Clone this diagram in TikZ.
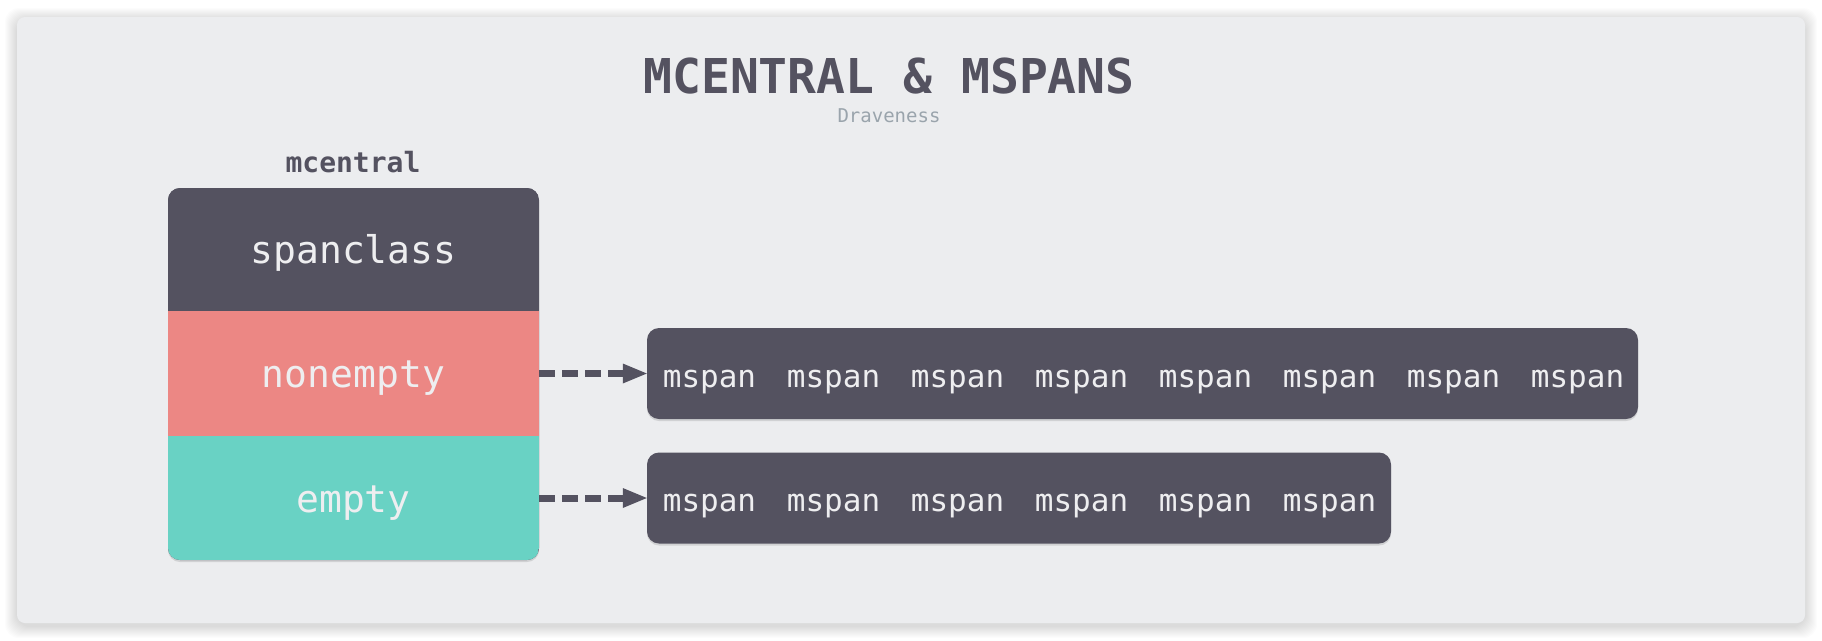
\documentclass[tikz,border=0pt]{standalone}
\usepackage{fontspec}
\setmonofont{DejaVu Sans Mono}
\usetikzlibrary{arrows.meta,shadows}
\definecolor{panel}{HTML}{ECEDEF}
\definecolor{dark}{HTML}{545260}
\definecolor{pinkrow}{HTML}{EC8784}
\definecolor{tealrow}{HTML}{69D2C4}
\definecolor{lighttext}{HTML}{EEEEF0}
\definecolor{subtle}{HTML}{9AA4AC}
\begin{document}
\begin{tikzpicture}[x=1pt,y=-1pt,
  rowbox/.style={rectangle, inner sep=0pt, minimum width=371pt, text height=28pt, text depth=0pt,
    font=\ttfamily\fontsize{38}{40}\selectfont, text=lighttext},
  spanword/.style={font=\ttfamily\fontsize{31}{33}\selectfont, text=lighttext, anchor=base, inner sep=0pt},
  listbox/.style={rectangle, rounded corners=12pt, fill=dark, inner sep=0pt, minimum height=91pt,
    drop shadow={shadow xshift=0pt, shadow yshift=-2pt, opacity=0.25}},
  ptr/.style={draw=dark, line width=7pt, dash pattern=on 16pt off 7pt,
    -{Triangle[length=24pt,width=20pt,line width=0pt]}}
]
\useasboundingbox (0,0) rectangle (1822,640);
% panel shadow
\foreach \i in {1,...,12}
  \fill[black, opacity=0.010, rounded corners=14pt] (17-\i,17-\i+3) rectangle (1805+\i,623+\i+3);
\fill[panel, rounded corners=8pt] (17,17) rectangle (1805,623);

% title
\node[font=\ttfamily\bfseries\fontsize{48}{50}\selectfont, text=dark, anchor=base, inner sep=0pt] (title) at (889,93) {MCENTRAL \& MSPANS};
\node[font=\ttfamily\fontsize{19}{21}\selectfont, text=subtle, anchor=base, inner sep=0pt] (author) at (889,122) {Draveness};

% mcentral structure
\node[font=\ttfamily\bfseries\fontsize{28}{30}\selectfont, text=dark, anchor=base, inner sep=0pt] (mcentral) at (353,172) {mcentral};
\path[fill=dark, rounded corners=12pt, drop shadow={shadow xshift=0pt, shadow yshift=-2pt, opacity=0.25}] (168,188) rectangle (539,560);
\begin{scope}
  \clip[rounded corners=12pt] (168,188) rectangle (539,560);
  \node[rowbox, fill=dark, minimum height=123pt] (spanclass) at (353.5,249.5) {spanclass};
  \node[rowbox, fill=pinkrow, minimum height=125pt] (nonempty) at (353.5,373.5) {nonempty};
  \node[rowbox, fill=tealrow, minimum height=124pt] (empty) at (353.5,498) {empty};
\end{scope}

% mspan lists
\node[listbox, minimum width=991pt] (list1) at (1142.5,373.5) {};
\node[listbox, minimum width=744pt] (list2) at (1019,498) {};
\foreach \k in {0,...,7}
  \node[spanword] (a\k) at ({709.5+124*\k},387) {mspan};
\foreach \k in {0,...,5}
  \node[spanword] (b\k) at ({709.5+124*\k},511) {mspan};

% pointers
\draw[ptr] (nonempty.east) -- (list1.west);
\draw[ptr] (empty.east) -- (list2.west);
\end{tikzpicture}
\end{document}
